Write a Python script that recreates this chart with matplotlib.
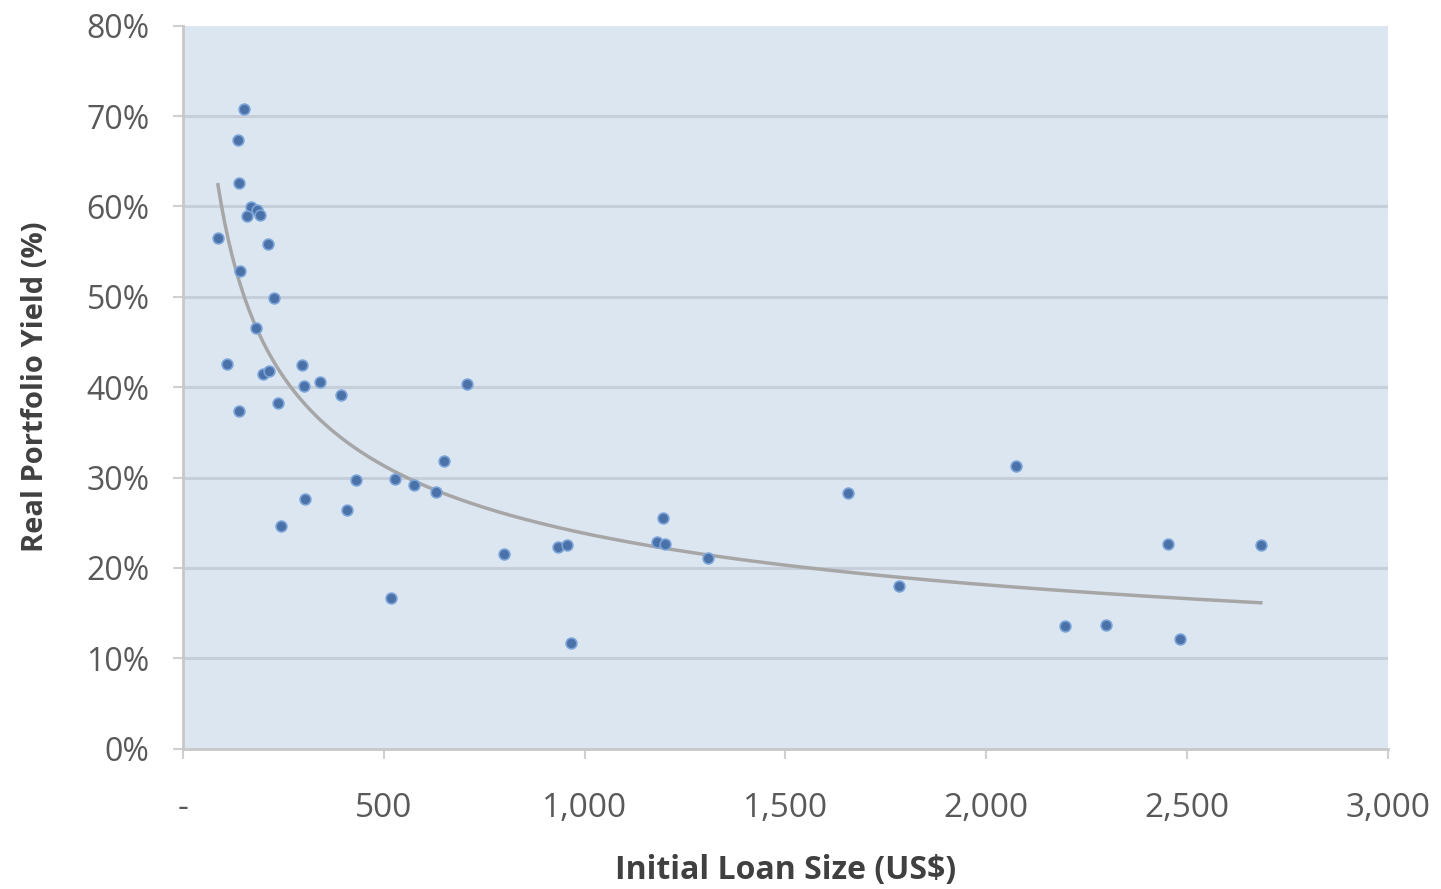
import matplotlib.pyplot as plt
import matplotlib.ticker as mticker
import numpy as np

# initial loan size (US$) and real portfolio yield (%) per institution
loan_size = [152, 137, 139, 169, 184, 159, 191, 87, 211, 142, 226, 181, 109,
             199, 214, 296, 340, 301, 393, 139, 236, 708, 649, 430, 529, 574,
             631, 303, 408, 244, 800, 934, 957, 519, 967, 1195, 1180, 1200,
             1307, 1655, 2075, 1782, 2453, 2684, 2197, 2299, 2483]
portfolio_yield = [70.8, 67.4, 62.6, 59.9, 59.6, 58.9, 59.1, 56.5, 55.9, 52.9,
                   49.9, 46.6, 42.6, 41.5, 41.8, 42.5, 40.6, 40.1, 39.1, 37.4,
                   38.2, 40.4, 31.8, 29.7, 29.8, 29.2, 28.4, 27.6, 26.4, 24.6,
                   21.5, 22.3, 22.5, 16.7, 11.7, 25.5, 22.9, 22.6, 21.1, 28.3,
                   31.3, 18.0, 22.6, 22.5, 13.6, 13.7, 12.1]

x_ticks = [0, 500, 1000, 1500, 2000, 2500, 3000]
x_ticklabels = ['-', '500', '1,000', '1,500', '2,000', '2,500', '3,000']
y_ticks = [0, 10, 20, 30, 40, 50, 60, 70, 80]

plt.rcParams['font.family'] = ['Open Sans', 'DejaVu Sans']

x = np.array(loan_size, dtype=float)
y = np.array(portfolio_yield) / 100

# power trendline y = a * x^b
b, ln_a = np.polyfit(np.log(x), np.log(y), 1)
xs = np.linspace(x.min(), x.max(), 300)
ys = np.exp(ln_a) * xs ** b

fig = plt.figure(figsize=(14.41, 8.89), dpi=100)
ax = fig.add_axes([0.127, 0.158, 0.836, 0.813])
ax.set_facecolor('#dce6f1')

for v in y_ticks[1:-1]:
    ax.axhline(v / 100, color='#c5ced9', lw=2.2, zorder=1)

ax.plot(xs, ys, color='#a6a6a6', lw=2.5, zorder=2)
ax.scatter(x, y, s=60, color='#4a72a8', edgecolors='#7aa3d8', linewidths=1.2,
           zorder=3)

ax.set_xlim(0, 3000)
ax.set_ylim(0, 0.8)
ax.set_xticks(x_ticks)
ax.set_xticklabels(x_ticklabels)
ax.set_yticks([v / 100 for v in y_ticks])
ax.yaxis.set_major_formatter(mticker.FuncFormatter(lambda v, p: f'{v * 100:.0f}%'))

for s in ['top', 'right']:
    ax.spines[s].set_visible(False)
for s in ['left', 'bottom']:
    ax.spines[s].set_color('#c8c8c8')
    ax.spines[s].set_linewidth(2)

ax.tick_params(axis='x', length=7, width=1.5, color='#d0d0d0',
               labelsize=24, labelcolor='#595959', pad=24)
ax.tick_params(axis='y', length=7, width=1.5, color='#d0d0d0',
               labelsize=23, labelcolor='#595959', pad=17)

ax.set_xlabel('Initial Loan Size (US$)', fontsize=23, fontweight='bold',
              color='#404040', labelpad=21)
ax.set_ylabel('Real Portfolio Yield (%)', fontsize=21, fontweight='bold',
              color='#404040', labelpad=26)

fig.savefig('out.png', dpi=100)
